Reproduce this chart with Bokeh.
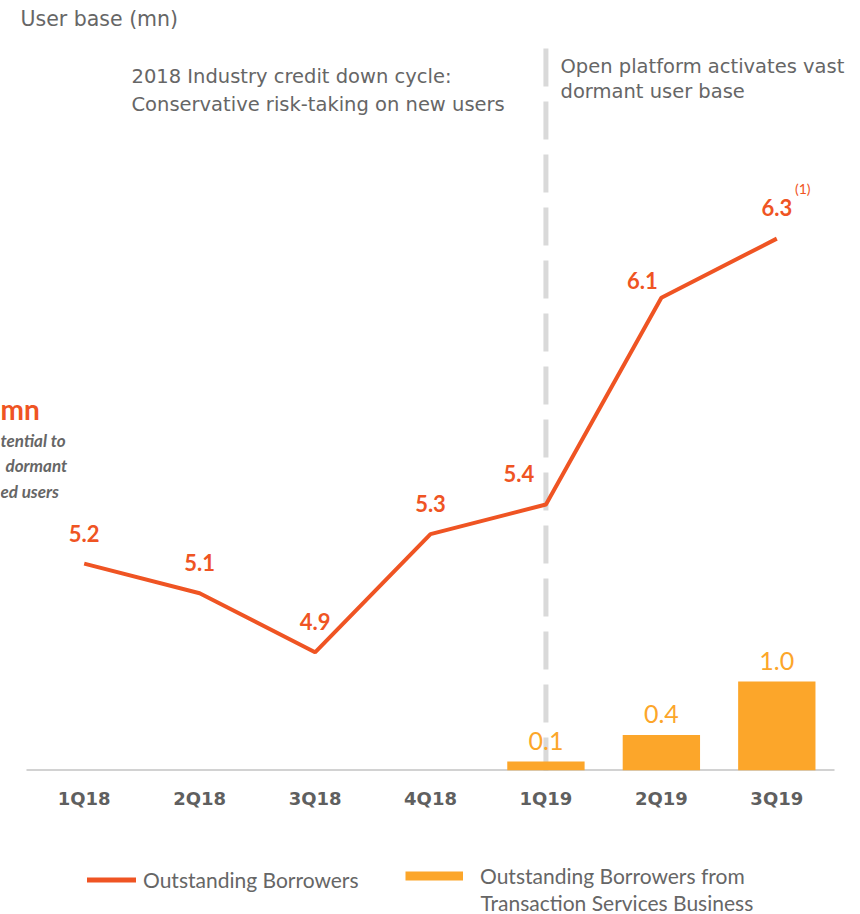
from bokeh.plotting import figure
from bokeh.layouts import column
from bokeh.models import FactorRange, Range1d, Label, Legend, LegendItem
from bokeh.core.properties import value
from bokeh.embed import file_html
from bokeh.resources import INLINE

# ---- data ----
quarters = ["1Q18", "2Q18", "3Q18", "4Q18", "1Q19", "2Q19", "3Q19"]
borrowers = [5.2, 5.1, 4.9, 5.3, 5.4, 6.1, 6.3]
borrower_labels = ["5.2", "5.1", "4.9", "5.3", "5.4", "6.1", "6.3"]
ts_quarters = ["1Q19", "2Q19", "3Q19"]
ts_borrowers = [0.1, 0.4, 1.0]
ts_labels = ["0.1", "0.4", "1.0"]
divider_quarter = "1Q19"
series_line_name = "Outstanding Borrowers"
series_bar_name = ["Outstanding Borrowers from", "Transaction Services Business"]

# ---- style ----
LINE = "#EF5423"
BAR = "#FCA62A"
GRAY = "#666666"
TICK_GRAY = "#5F5F5F"
ANN_FONT = "DejaVu Sans"
FONT = "Lato"

W = 860
H1, H2 = 850, 64
FRAME_H = 770
LINE_PX = 295.5      # px per unit for line axis
BAR_PX = 89.0        # px per unit for bar axis
y0 = 4.5

p = figure(width=W, height=H1,
           x_range=FactorRange(factors=quarters, range_padding=0.225,
                               range_padding_units="absolute"),
           y_range=Range1d(y0, y0 + FRAME_H / LINE_PX),
           output_backend="svg", toolbar_location=None,
           y_axis_location=None,
           min_border_left=0, min_border_right=0,
           min_border_top=0, min_border_bottom=H1 - FRAME_H)
p.extra_y_ranges = {"ts": Range1d(0, FRAME_H / BAR_PX)}
p.outline_line_color = None
p.xgrid.grid_line_color = None
p.ygrid.grid_line_color = None
p.background_fill_color = "white"
p.border_fill_color = "white"

# x axis (labels only; baseline drawn across the category span)
ax = p.xaxis[0]
ax.axis_line_color = None
ax.major_tick_line_color = None
ax.minor_tick_line_color = None
ax.major_tick_out = 0
ax.major_label_standoff = 17
ax.major_label_text_font = "DejaVu Sans"
ax.major_label_text_font_style = "bold"
ax.major_label_text_font_size = "18px"
ax.major_label_text_color = TICK_GRAY

# dashed divider
top_val = p.y_range.end - 48 / LINE_PX
p.segment(x0=[divider_quarter], y0=[top_val], x1=[divider_quarter], y1=[y0 - 3 / LINE_PX],
          line_color="#D9D9D9", line_width=5, line_dash="38 15")

# baseline across the categories (synthetic coords 0 .. n)
p.segment(x0=[0], y0=[y0], x1=[len(quarters)], y1=[y0], line_color="#A6A6A6", line_width=2)

# bars
p.vbar(x=ts_quarters, top=ts_borrowers, width=0.67, fill_color=BAR,
       line_color=None, y_range_name="ts")
p.text(x=ts_quarters, y=ts_borrowers, text=ts_labels, y_range_name="ts",
       y_offset=-21, text_align="center", text_baseline="middle",
       text_color=BAR, text_font=value(FONT), text_font_size="25px")

# line
p.line(x=quarters, y=borrowers, line_color=LINE, line_width=4)
label_dx = [0, 0, 0, 0, -27, -19, 0]
label_dy = [-30, -31, -31, -31, -31, -17, -31]
p.text(x=quarters, y=borrowers, text=borrower_labels, x_offset=label_dx, y_offset=label_dy,
       text_align="center", text_baseline="middle", text_color=LINE,
       text_font=value(FONT), text_font_style="bold", text_font_size="22px")
p.text(x=[quarters[-1]], y=[borrowers[-1]], text=["(1)"], x_offset=[26], y_offset=[-50],
       text_align="center", text_baseline="middle", text_color=LINE,
       text_font=value(FONT), text_font_size="14px")

# annotations (screen units relative to frame bottom-left)
def lab(fig, text, x, y, size="19.5px", color=GRAY, font=ANN_FONT, style="normal", align="left"):
    fig.add_layout(Label(x=x, y=y, x_units="screen", y_units="screen", text=text,
                         text_font=font, text_font_size=size, text_color=color,
                         text_font_style=style, text_align=align, text_baseline="middle"))

lab(p, "User base (mn)", 20, 752, size="20.5px")
lab(p, "2018 Industry credit down cycle:", 131, 694)
lab(p, "Conservative risk-taking on new users", 131, 666)
lab(p, "Open platform activates vast", 560, 704)
lab(p, "dormant user base", 560, 679)
lab(p, "mn", 0, 362, size="28px", color=LINE, font=FONT, style="bold")
lab(p, "tential to", 0, 330, size="17px", font=FONT, style="bold italic")
lab(p, "dormant", 5, 305, size="17px", font=FONT, style="bold italic")
lab(p, "ed users", 0, 279, size="17px", font=FONT, style="bold italic")

# legend strip (separate figure so it can sit below the axis);
# the series are drawn out of view, only their legend swatches show
q = figure(width=W, height=H2, x_range=FactorRange(factors=quarters), y_range=Range1d(-2, -1),
           output_backend="svg", toolbar_location=None,
           x_axis_location=None, y_axis_location=None,
           min_border_left=0, min_border_right=0, min_border_top=0, min_border_bottom=0)
q.outline_line_color = None
q.xgrid.grid_line_color = None
q.ygrid.grid_line_color = None
q.background_fill_color = "white"
q.border_fill_color = "white"
lg_line = q.line(x=quarters, y=borrowers, line_color=LINE, line_width=5, line_cap="round")
lg_bar = q.line(x=ts_quarters, y=ts_borrowers, line_color=BAR, line_width=9, line_cap="butt")

common = dict(orientation="horizontal", glyph_height=25, padding=0, margin=0,
              border_line_color=None, background_fill_alpha=0,
              label_text_font=FONT, label_text_font_size="21px", label_text_color=GRAY)
leg1 = Legend(items=[LegendItem(label=series_line_name, renderers=[lg_line])],
              location=(87, 22), glyph_width=49, label_standoff=7, **common)
leg2 = Legend(items=[LegendItem(label=series_bar_name[0], renderers=[lg_bar])],
              location=(405, 26), glyph_width=58, label_standoff=17, **common)
q.add_layout(leg1, "center")
q.add_layout(leg2, "center")
lab(q, series_bar_name[1], 480, 12, size="21px", font=FONT)

open("out.html", "w").write(file_html(column(p, q, spacing=0), INLINE))
